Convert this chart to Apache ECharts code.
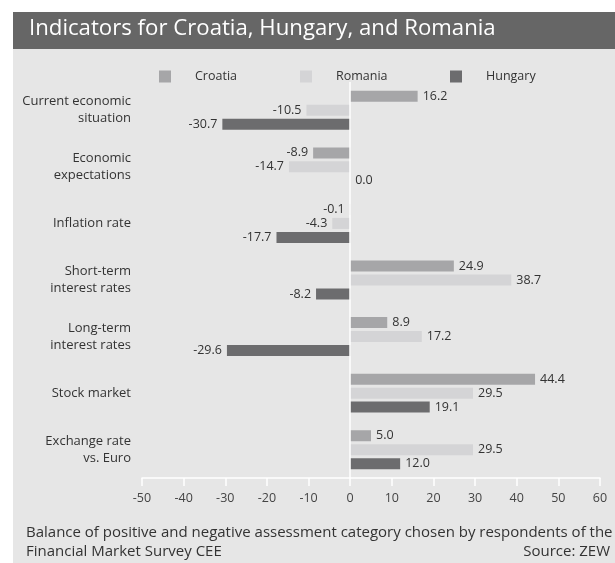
<!DOCTYPE html>
<html>
<head>
<meta charset="utf-8">
<script src="https://cdn.jsdelivr.net/npm/echarts@6/dist/echarts.min.js"></script>
<style>
html,body{margin:0;padding:0;background:#fff;}
#chart{width:615px;height:563px;}
</style>
</head>
<body>
<div id="chart"></div>
<script>
var categories = [
  'Current economic\nsituation',
  'Economic\nexpectations',
  'Inflation rate',
  'Short-term\ninterest rates',
  'Long-term\ninterest rates',
  'Stock market',
  'Exchange rate\nvs. Euro'
];
var croatia = [16.2, -8.9, -0.1, 24.9, 8.9, 44.4, 5.0];
var romania = [-10.5, -14.7, -4.3, 38.7, 17.2, 29.5, 29.5];
var hungary = [-30.7, 0.0, -17.7, -8.2, -29.6, 19.1, 12.0];
var xTicks = [-50, 60, 10];

var FONT = '"Open Sans"';
var colors = {Croatia: '#a6a6a8', Romania: '#d4d4d6', Hungary: '#6c6c6e'};

function items(arr) {
  return arr.map(function (v) {
    return {value: v, label: {position: v < 0 ? 'left' : 'right'}};
  });
}
function series(name, arr, withLine) {
  var s = {
    name: name,
    type: 'bar',
    data: items(arr),
    barWidth: 11,
    barGap: '27%',
    itemStyle: {color: colors[name]},
    label: {
      show: true,
      distance: 5,
      color: '#333',
      fontFamily: FONT,
      fontSize: 12.5,
      formatter: function (p) { return p.value.toFixed(1); }
    },
    emphasis: {disabled: true}
  };
  if (withLine) {
    s.markLine = {
      silent: true,
      symbol: 'none',
      label: {show: false},
      lineStyle: {color: '#ffffff', width: 1.5, type: 'solid'},
      data: [{xAxis: 0}],
      animation: false
    };
  }
  return s;
}
function legendFor(name, left) {
  return {
    data: [name],
    left: left,
    top: 65,
    itemWidth: 12,
    itemHeight: 12,
    icon: 'rect',
    selectedMode: false,
    textStyle: {fontFamily: FONT, fontSize: 12.5, color: '#333', padding: [0, 0, 0, 19]}
  };
}

var chart = echarts.init(document.getElementById('chart'));
chart.setOption({
  animation: false,
  backgroundColor: '#ffffff',
  graphic: [
    {type: 'rect', shape: {x: 13, y: 49, width: 602, height: 514}, style: {fill: '#e6e6e6'}, z: -10},
    {type: 'rect', shape: {x: 13, y: 12, width: 602, height: 37}, style: {fill: '#666666'}, z: -10},
    {type: 'text', left: 29, top: 18, style: {text: 'Indicators for Croatia, Hungary, and Romania', fill: '#ffffff', font: '22.2px ' + FONT}},
    {type: 'text', left: 26, top: 525, style: {text: 'Balance of positive and negative assessment category chosen by respondents of the', fill: '#333', font: '15px ' + FONT}},
    {type: 'text', left: 26, top: 544, style: {text: 'Financial Market Survey CEE', fill: '#333', font: '15px ' + FONT}},
    {type: 'text', right: 5, top: 544, style: {text: 'Source: ZEW', fill: '#333', font: '15px ' + FONT, textAlign: 'right'}}
  ],
  legend: [legendFor('Croatia', 154), legendFor('Romania', 295), legendFor('Hungary', 445)],
  grid: {left: 142, right: 15, top: 82, bottom: 85, containLabel: false},
  xAxis: {
    type: 'value',
    min: xTicks[0],
    max: xTicks[1],
    interval: xTicks[2],
    axisLine: {show: true, lineStyle: {color: '#ffffff', width: 1.5}},
    axisTick: {show: true, length: 8, lineStyle: {color: '#ffffff', width: 1.5}},
    splitLine: {show: false},
    axisLabel: {color: '#444', fontFamily: FONT, fontSize: 12.5, margin: 14}
  },
  yAxis: {
    type: 'category',
    data: categories,
    inverse: true,
    axisLine: {show: false},
    axisTick: {show: false},
    axisLabel: {color: '#333', fontFamily: FONT, fontSize: 13, lineHeight: 17, margin: 11}
  },
  series: [series('Croatia', croatia, true), series('Romania', romania), series('Hungary', hungary)]
});
</script>
</body>
</html>
